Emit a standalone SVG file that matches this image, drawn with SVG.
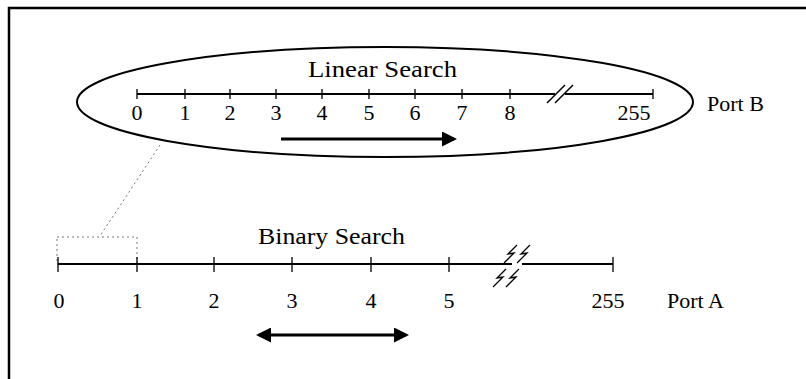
<svg xmlns="http://www.w3.org/2000/svg" width="806" height="379" viewBox="0 0 806 379">
<defs>
<style>
text{font-family:"Liberation Serif","Times New Roman",serif;fill:#000}
.num{font-size:22px;text-anchor:middle}
.lbl{font-size:22px}
.ttl{font-size:24px}
.tick{stroke:#000;stroke-width:1.3}
.axis{stroke:#000;stroke-width:2;fill:none}
.dot{stroke:#777;stroke-width:1;stroke-dasharray:2 3;fill:none}
</style>
<marker id="ah" markerWidth="5" markerHeight="5" refX="4" refY="2.5" orient="auto-start-reverse" markerUnits="strokeWidth">
<path d="M0,0 L5,2.5 L0,5 z" fill="#000"/>
</marker>
</defs>
<rect width="806" height="379" fill="#fff"/>
<path d="M9,379 V8 H806" fill="none" stroke="#000" stroke-width="2.5"/>

<g id="port-b">
<ellipse cx="385" cy="102" rx="308" ry="55" fill="none" stroke="#000" stroke-width="2"/>
<text class="ttl" x="308" y="77" textLength="149" lengthAdjust="spacingAndGlyphs">Linear Search</text>
<path class="axis" d="M137,94 H555 M565,94 H653"/>
<path class="tick" d="M137,89 V99 M185,89 V99 M230,89 V99 M276,89 V99 M322,89 V99 M369,89 V99 M415,89 V99 M462,89 V99 M510,89 V99 M653,89 V99"/>
<path d="M547,103 L565,85 M555,103 L573,85" stroke="#000" stroke-width="1.5"/>
<text class="num" x="137" y="120">0</text>
<text class="num" x="185" y="120">1</text>
<text class="num" x="230" y="120">2</text>
<text class="num" x="276" y="120">3</text>
<text class="num" x="322" y="120">4</text>
<text class="num" x="369" y="120">5</text>
<text class="num" x="415" y="120">6</text>
<text class="num" x="462" y="120">7</text>
<text class="num" x="510" y="120">8</text>
<text class="num" x="634" y="120">255</text>
<text class="lbl" x="707" y="111">Port B</text>
</g>

<g id="port-a">
<rect class="dot" x="57" y="237" width="80" height="27"/>
<text class="ttl" x="258" y="244" textLength="147" lengthAdjust="spacingAndGlyphs">Binary Search</text>
<path class="axis" d="M58,264 H512" stroke-width="2.5"/>
<path class="axis" d="M522,264 H613" stroke-width="1.5"/>
<path class="tick" d="M58,257 V272 M137,257 V272 M214,257 V272 M292,257 V272 M371,257 V272 M449,257 V272 M613,257 V272"/>
<path d="M517,245 L508,254 L514,253 L504,263 M530,245 L521,254 L527,253 L517,263 M506,269 L497,278 L503,277 L493,287 M519,269 L510,278 L516,277 L506,287" fill="none" stroke="#000" stroke-width="1.3"/>
<text class="num" x="59" y="308">0</text>
<text class="num" x="137" y="308">1</text>
<text class="num" x="214" y="308">2</text>
<text class="num" x="292" y="308">3</text>
<text class="num" x="371" y="308">4</text>
<text class="num" x="449" y="308">5</text>
<text class="num" x="608" y="308">255</text>
<text class="lbl" x="667" y="308">Port A</text>
</g>

<g id="connectors">
<path class="dot" d="M160,145 L100,236"/>
<line x1="281" y1="139" x2="454" y2="139" stroke="#000" stroke-width="3" marker-end="url(#ah)"/>
<line x1="259" y1="335" x2="406" y2="335" stroke="#000" stroke-width="3" marker-start="url(#ah)" marker-end="url(#ah)"/>
</g>
</svg>
